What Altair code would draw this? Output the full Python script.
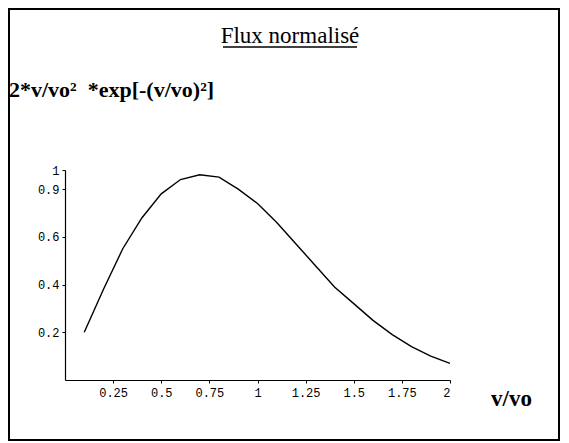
import altair as alt
import pandas as pd

# Curve values
v_ratio = [0.1, 0.2, 0.3, 0.4, 0.5, 0.6, 0.7, 0.8, 0.9, 1.0,
           1.1, 1.2, 1.3, 1.4, 1.5, 1.6, 1.7, 1.8, 1.9, 2.0]
flux = [0.20, 0.38, 0.55, 0.68, 0.78, 0.84, 0.86, 0.85, 0.80, 0.74,
        0.66, 0.57, 0.48, 0.39, 0.32, 0.25, 0.19, 0.14, 0.10, 0.07]

x_ticks = [0.25, 0.5, 0.75, 1, 1.25, 1.5, 1.75, 2]
y_ticks = [0.2, 0.4, 0.6, 0.8, 0.88]

title_text = "Flux normalisé"
y_title = "2*v/vo²\u00a0\u00a0*exp[-(v/vo)²]"
x_title = "v/vo"

W, H = 385, 210
PAD_L, PAD_T = 57, 162

df = pd.DataFrame({"x": v_ratio, "y": flux})
one = pd.DataFrame({"a": [0]})

xs = alt.Scale(domain=[0, 2], nice=False)
ys = alt.Scale(domain=[0, 0.88], nice=False, zero=False)

line = alt.Chart(df).mark_line(color="black", strokeWidth=1.4).encode(
    x=alt.X("x:Q", scale=xs,
            axis=alt.Axis(values=x_ticks, title=None, grid=False,
                          tickSize=3, labelPadding=4,
                          labelExpr="'' + datum.value")),
    y=alt.Y("y:Q", scale=ys,
            axis=alt.Axis(values=y_ticks, title=None, grid=False, tickSize=3,
                          labelPadding=3,
                          labelExpr="datum.value > 0.85 ? '1' : (datum.value > 0.75 ? '0.9' : format(datum.value, '.1f'))")),
)

title = alt.Chart(one).mark_text(
    text=title_text, font="Liberation Serif", fontSize=23, align="center",
    baseline="alphabetic", color="black"
).encode(x=alt.value(225), y=alt.value(-127))

underline = alt.Chart(one).mark_rule(color="black", strokeWidth=1.5).encode(
    x=alt.value(158), x2=alt.value(292), y=alt.value(-123)
)

ylab = alt.Chart(one).mark_text(
    text=y_title, font="Liberation Serif", fontSize=22, fontWeight="bold",
    align="left", baseline="alphabetic", color="black"
).encode(x=alt.value(-56), y=alt.value(-73))

xlab = alt.Chart(one).mark_text(
    text=x_title, font="Liberation Serif", fontSize=23, fontWeight="bold",
    align="left", baseline="alphabetic", color="black"
).encode(x=alt.value(426), y=alt.value(236))

border = alt.Chart(one).mark_rect(fill=None, stroke="black", strokeWidth=2).encode(
    x=alt.value(-56), x2=alt.value(494), y=alt.value(-161), y2=alt.value(270)
)

chart = alt.layer(border, line, title, underline, ylab, xlab).properties(
    width=W, height=H,
    autosize=alt.AutoSizeParams(type="none"),
    padding={"left": PAD_L, "top": PAD_T, "right": 111, "bottom": 63},
).configure_view(stroke=None).configure_axis(
    domainColor="black", tickColor="black", labelColor="black",
    labelFont="Liberation Mono", labelFontSize=12, domainWidth=1.2
)

chart.save("out.html", embed_options={"renderer": "svg", "actions": False})
